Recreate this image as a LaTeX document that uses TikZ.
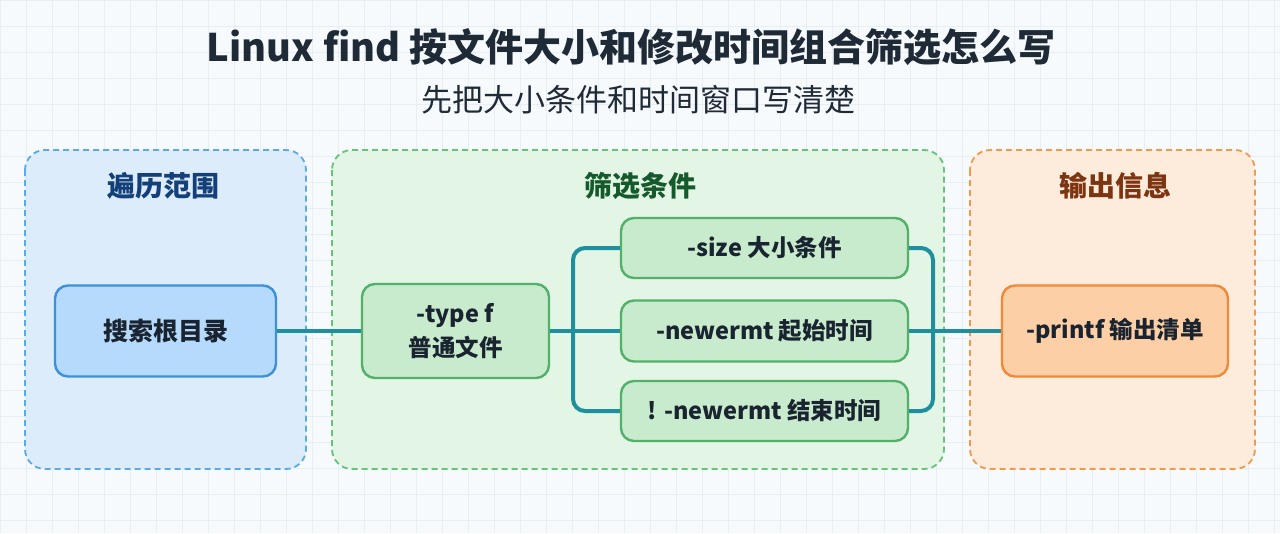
\documentclass[tikz,border=0pt]{standalone}
\usepackage{fontspec}
\setmainfont{Noto Sans CJK SC}
\definecolor{bgc}{HTML}{F7FAFC}
\definecolor{gridc}{HTML}{E7EEF4}
\definecolor{titlec}{HTML}{1F2A37}
\definecolor{bluefill}{HTML}{DDECFB}
\definecolor{bluedraw}{HTML}{5AAAE8}
\definecolor{greenfill}{HTML}{E3F5E5}
\definecolor{greendraw}{HTML}{66C377}
\definecolor{orangefill}{HTML}{FDEBDC}
\definecolor{orangedraw}{HTML}{F29A4C}
\definecolor{rootfill}{HTML}{B5DAFC}
\definecolor{rootdraw}{HTML}{3D90DA}
\definecolor{gnodefill}{HTML}{C9EBCD}
\definecolor{gnodedraw}{HTML}{52B06A}
\definecolor{onodefill}{HTML}{FDCFA6}
\definecolor{onodedraw}{HTML}{EE8A3A}
\definecolor{connc}{HTML}{1F8F9E}
\definecolor{bluetitle}{HTML}{14407A}
\definecolor{greentitle}{HTML}{145A2A}
\definecolor{browntitle}{HTML}{7C3411}
\definecolor{nodetext}{HTML}{1A2430}
\tikzset{
  group/.style={draw, dashed, dash pattern=on 6pt off 4pt, line width=1.8pt, rounded corners=20pt},
  box/.style={draw, line width=2.4pt, rounded corners=13pt, align=center, text=nodetext,
     font=\bfseries\fontsize{23.5}{34}\selectfont, inner sep=0pt},
  gbox/.style={box, fill=gnodefill, draw=gnodedraw},
  conn/.style={draw=connc, line width=4pt, rounded corners=12pt},
  gtitle/.style={font=\bfseries\fontsize{28}{32}\selectfont, anchor=center}
}
\begin{document}
\begin{tikzpicture}[x=1pt,y=-1pt]
\useasboundingbox (0,0) rectangle (1280,533);
\fill[bgc] (0,0) rectangle (1280,533);
\draw[gridc, line width=0.8pt, step=26pt] (0,0) grid (1280,533);

% titles
\node[text=titlec, font=\bfseries\fontsize{38}{44}\selectfont] (title) at (631,47) {Linux find 按文件大小和修改时间组合筛选怎么写};
\node[text=titlec, font=\fontsize{31}{36}\selectfont] (subtitle) at (638,100) {先把大小条件和时间窗口写清楚};

% groups
\draw[group, fill=bluefill, draw=bluedraw] (25,150) rectangle (306,469);
\draw[group, fill=greenfill, draw=greendraw] (332,150) rectangle (944,469);
\draw[group, fill=orangefill, draw=orangedraw] (970,150) rectangle (1255,469);

\node[gtitle, text=bluetitle] (t1) at (163,186) {遍历范围};
\node[gtitle, text=greentitle] (t2) at (640,186) {筛选条件};
\node[gtitle, text=browntitle] (t3) at (1115,186) {输出信息};

% nodes
\node[box, fill=rootfill, draw=rootdraw, minimum width=221pt, minimum height=91pt,
      font=\bfseries\fontsize{25}{30}\selectfont] (root) at (165.5,331) {搜索根目录};
\node[gbox, minimum width=187pt, minimum height=94pt] (typef) at (455.5,331) {-type f\\普通文件};
\node[gbox, minimum width=287pt, minimum height=60pt] (size) at (764.5,248) {-size 大小条件};
\node[gbox, minimum width=287pt, minimum height=61pt] (start) at (764.5,331) {-newermt 起始时间};
\node[gbox, minimum width=287pt, minimum height=60pt] (end) at (764.5,411) {! -newermt 结束时间};
\node[box, fill=onodefill, draw=onodedraw, minimum width=226pt, minimum height=91pt] (printf) at (1115,331) {-printf 输出清单};

\coordinate (lx) at (573,331);
\coordinate (rx) at (933,331);

% connectors
\draw[conn] (root.east) -- (typef.west);
\draw[conn] (typef.east) -- (start.west);
\draw[conn] (size.west) -| (lx) |- (end.west);
\draw[conn] (size.east) -| (rx) |- (end.east);
\draw[conn] (start.east) -- (printf.west);
\end{tikzpicture}
\end{document}
